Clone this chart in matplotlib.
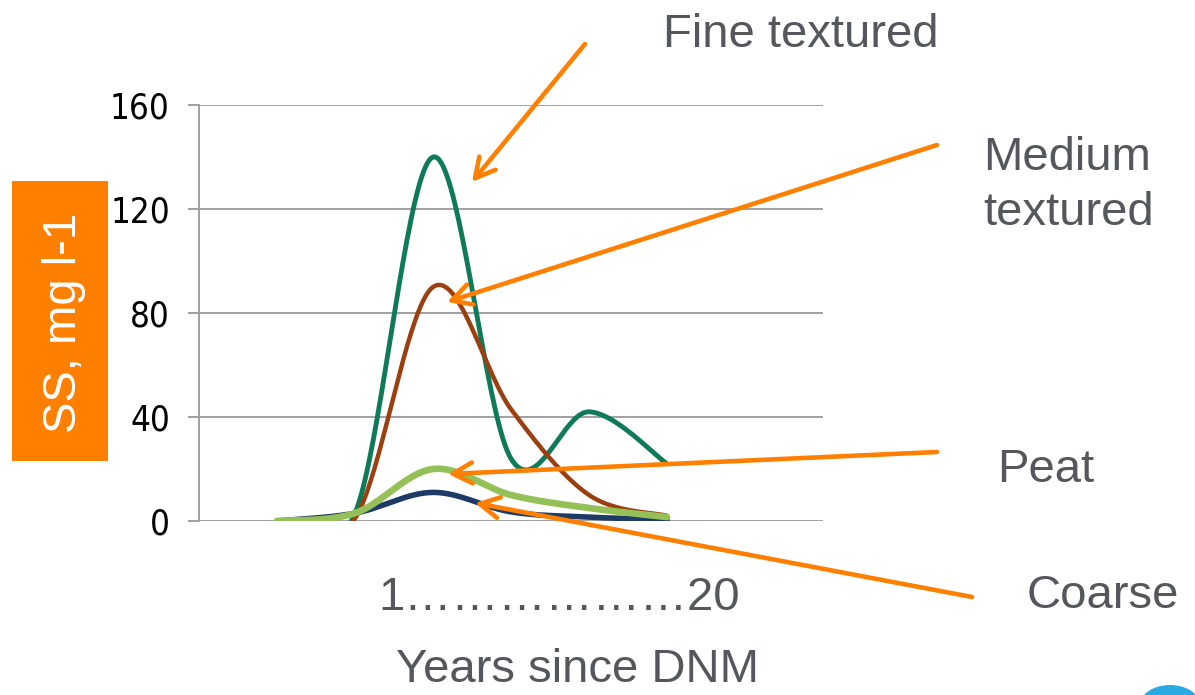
import numpy as np
import matplotlib
matplotlib.use("Agg")
import matplotlib.pyplot as plt
from matplotlib import font_manager as fm
from matplotlib.patches import FancyArrowPatch, Rectangle, Ellipse

# ---- data ----
x_pos = [1, 2, 3, 4, 5, 6]
fine_textured = [0, 3, 140, 24, 42, 22]
medium_textured = [0, 1, 90, 43, 10, 2]
coarse = [0, 3, 11, 3.5, 1.5, 0.5]
peat = [0, 3, 20, 10, 5, 1.5]
y_ticks = [0, 40, 80, 120, 160]

W, H = 1195, 695
TXT = '#54585C'
ORANGE = '#FF8000'


def smooth(xs, ys, n=40):
    """Bezier smoothing through the points (Excel-like smoothed line)."""
    xs = np.asarray(xs, float)
    ys = np.asarray(ys, float)
    P = np.column_stack([xs, ys])
    Pe = np.vstack([P[0], P, P[-1]])
    out = []
    t = np.linspace(0, 1, n)[:, None]
    for i in range(len(P) - 1):
        p0, p1 = Pe[i + 1], Pe[i + 2]
        c1 = p0 + (Pe[i + 2] - Pe[i]) / 6.0
        c2 = p1 - (Pe[i + 3] - Pe[i + 1]) / 6.0
        seg = ((1 - t) ** 3) * p0 + 3 * ((1 - t) ** 2) * t * c1 + 3 * (1 - t) * t ** 2 * c2 + t ** 3 * p1
        out.append(seg if i == 0 else seg[1:])
    arr = np.vstack(out)
    return arr[:, 0], arr[:, 1]


def fx(px):
    return px / W


def fy(py):
    return 1 - py / H


# pick a narrow font for the tick labels if one is installed
narrow_fp = None
for f in fm.fontManager.ttflist:
    if f.name == 'Liberation Sans Narrow' and f.weight in (400, 'normal', 'regular') and f.style == 'normal':
        narrow_fp = fm.FontProperties(fname=f.fname)
        break
if narrow_fp is None:
    for f in fm.fontManager.ttflist:
        if 'Condensed' in f.fname and 'Sans' in f.fname and 'Bold' not in f.fname and 'Oblique' not in f.fname \
                and 'Mono' not in f.fname:
            narrow_fp = fm.FontProperties(fname=f.fname)
            break
if narrow_fp is None:
    narrow_fp = fm.FontProperties(family='Liberation Sans')
narrow_fp.set_size(25)

fig = plt.figure(figsize=(W / 100, H / 100), dpi=100)
ax = fig.add_axes([fx(199), fy(521), fx(823) - fx(199), fy(105) - fy(521)])

series = [
    (fine_textured, '#0E7A5A', 3.5),
    (medium_textured, '#9A4010', 3.2),
    (coarse, '#1E3A66', 4.0),
    (peat, '#95C057', 4.8),
]
for ys, col, lw in series:
    sx, sy = smooth(x_pos, ys)
    ax.plot(sx, sy, color=col, lw=lw, solid_capstyle='round', zorder=3)

ax.set_xlim(0, 8)
ax.set_ylim(0, 160)
ax.set_yticks(y_ticks)
ax.set_xticks([])
ax.yaxis.grid(True, color='#A0A0A0', lw=1.4)
ax.set_axisbelow(True)
for s in ['top', 'right', 'bottom']:
    ax.spines[s].set_visible(False)
ax.spines['left'].set_color('#A0A0A0')
ax.spines['left'].set_linewidth(1.4)
ax.tick_params(axis='y', direction='out', length=8, width=1.4, color='#A0A0A0',
               pad=13, labelcolor='black')
ax.set_yticklabels([str(v) for v in y_ticks], fontproperties=narrow_fp)

FONT = ['Liberation Sans', 'DejaVu Sans']
FS = 34

# y label box
fig.add_artist(Rectangle((fx(12), fy(461)), fx(108) - fx(12), fy(181) - fy(461),
                         transform=fig.transFigure, facecolor=ORANGE, edgecolor='none'))
fig.text(fx(64), fy(323), 'SS, mg l-1', rotation=90, ha='center', va='center',
         color='white', fontsize=FS, family=FONT)

# x labels
fig.text(fx(559), fy(610), '1\u2026\u2026\u2026\u2026\u2026\u202620', ha='center', va='baseline',
         color=TXT, fontsize=FS, family=FONT)
fig.text(fx(578), fy(682), 'Years since DNM', ha='center', va='baseline',
         color=TXT, fontsize=FS, family=FONT)

# annotations
fig.text(fx(663), fy(47), 'Fine textured', ha='left', va='baseline', color=TXT, fontsize=FS, family=FONT)
fig.text(fx(983), fy(170), 'Medium', ha='left', va='baseline', color=TXT, fontsize=FS, family=FONT)
fig.text(fx(983), fy(225), 'textured', ha='left', va='baseline', color=TXT, fontsize=FS, family=FONT)
fig.text(fx(997), fy(482), 'Peat', ha='left', va='baseline', color=TXT, fontsize=FS, family=FONT)
fig.text(fx(1027), fy(608), 'Coarse', ha='left', va='baseline', color=TXT, fontsize=FS, family=FONT)

arrows = [((585, 44), (472, 182)),
          ((937, 145), (447, 302)),
          ((937, 452), (448, 474)),
          ((972, 597), (475, 503))]
for (x1, y1), (x2, y2) in arrows:
    fig.add_artist(FancyArrowPatch((fx(x1), fy(y1)), (fx(x2), fy(y2)), transform=fig.transFigure,
                                   arrowstyle='->,head_length=14,head_width=7.5', mutation_scale=1,
                                   color=ORANGE, lw=3.3, shrinkA=0, shrinkB=0, zorder=5))

# decorative logo edge bottom right
fig.add_artist(Ellipse((fx(1170), fy(705)), 60 / W, 40 / H, transform=fig.transFigure,
                       facecolor='#29ABE2', edgecolor='none'))

fig.savefig('out.png', dpi=100)
